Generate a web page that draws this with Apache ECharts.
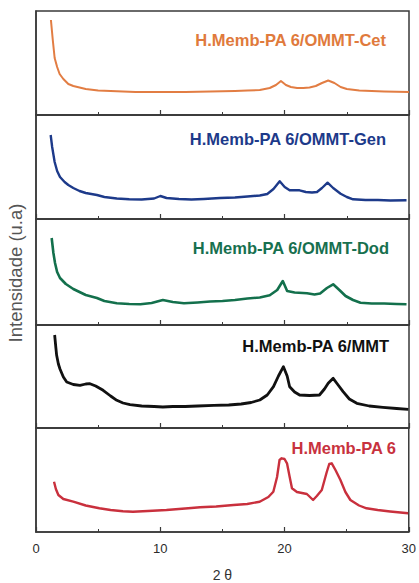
<!DOCTYPE html>
<html>
<head>
<meta charset="utf-8">
<script src="https://cdn.jsdelivr.net/npm/echarts@6/dist/echarts.min.js"></script>
<style>
  html, body { margin: 0; padding: 0; background: #fff; }
  #chart { width: 419px; height: 583px; }
</style>
</head>
<body>
<div id="chart"></div>
<script>
// XRD patterns, 2θ (degrees) vs relative intensity (a.u.), one panel per sample
const sampleNames = [
  'H.Memb-PA 6/OMMT-Cet',
  'H.Memb-PA 6/OMMT-Gen',
  'H.Memb-PA 6/OMMT-Dod',
  'H.Memb-PA 6/MMT',
  'H.Memb-PA 6'
];
const sampleColors = ['#e27d43', '#1d3a8a', '#13704c', '#111111', '#c9303d'];
const labelColors  = ['#e07a3c', '#1d3a8a', '#17704f', '#111111', '#c8323e'];

const xTicks = [0, 10, 20, 30];

const patternCet = [
  [1.2, 95], [1.35, 75], [1.5, 57], [1.7, 48], [1.9, 41], [2.2, 36], [2.6, 31],
  [3.0, 29], [4.0, 26], [5.0, 24.5], [6.0, 24], [7.0, 23.5], [8.0, 23], [10.0, 23],
  [12.0, 23], [14.0, 23.5], [16.0, 24], [17.0, 24.5], [18.0, 25], [18.8, 27],
  [19.3, 30], [19.7, 34], [20.1, 30], [20.5, 28], [21.0, 27], [21.5, 27],
  [22.0, 27.5], [22.5, 29], [23.0, 32], [23.5, 34.5], [24.0, 32], [24.5, 28],
  [25.0, 26], [26.0, 24.5], [27.0, 24], [28.0, 23.5], [30.0, 23]
];

const patternGen = [
  [1.18, 84], [1.3, 72], [1.5, 57], [1.7, 48], [1.93, 42], [2.3, 37], [2.6, 34],
  [3.0, 31], [3.5, 28], [4.0, 26], [4.9, 24], [5.5, 22], [6.5, 20.5], [7.5, 19.7],
  [8.5, 19.5], [9.5, 20.5], [10.0, 23], [10.5, 21], [11.5, 20], [12.5, 19.5],
  [13.5, 20], [14.8, 21], [16.0, 21.5], [17.0, 22.5], [18.0, 23.5], [18.6, 25],
  [19.1, 30], [19.6, 37.7], [20.0, 32], [20.4, 28.7], [21.2, 28.7], [21.7, 27],
  [22.2, 26.5], [22.6, 27], [23.0, 31], [23.45, 36.3], [23.9, 31], [24.5, 25.3],
  [25.0, 22], [25.5, 19.7], [26.5, 19], [27.5, 19], [28.5, 18.5], [29.8, 18.7]
];

const patternDod = [
  [1.26, 87], [1.4, 72], [1.53, 62], [1.7, 53], [1.93, 47], [2.4, 41], [3.0, 36],
  [3.5, 33], [4.0, 30], [4.9, 27], [5.5, 24], [6.5, 21.7], [7.5, 21], [8.4, 20.7],
  [9.3, 22], [10.2, 25], [11.0, 23], [11.9, 21.7], [13.0, 22.5], [14.0, 23.5],
  [15.0, 24], [16.0, 25], [17.0, 26.5], [18.0, 27.5], [18.8, 29.7], [19.4, 35],
  [19.85, 44], [20.2, 34], [20.8, 32.5], [21.8, 31.7], [22.4, 30.5], [22.85, 31.5],
  [23.4, 37], [23.9, 40.7], [24.4, 35], [24.9, 29], [25.5, 25], [26.1, 22.3],
  [27.0, 21.5], [28.0, 21.5], [29.0, 21], [29.8, 20.7]
];

const patternMmt = [
  [1.5, 93], [1.6, 80], [1.66, 72.7], [1.8, 64], [1.93, 59], [2.2, 51], [2.47, 46],
  [3.0, 43.5], [3.54, 42.7], [4.0, 44], [4.34, 44.3], [4.8, 42], [5.4, 37.7],
  [6.0, 32], [6.5, 27.7], [7.0, 25], [7.56, 23.3], [8.5, 22], [9.5, 21.5],
  [10.2, 21], [11.0, 21.5], [12.0, 21.5], [13.0, 22], [14.3, 22.7], [15.5, 23],
  [16.5, 24], [17.3, 25.5], [18.0, 28], [18.6, 33], [19.1, 41.3], [19.5, 52],
  [19.9, 61.3], [20.2, 52], [20.4, 41.3], [20.8, 36], [21.2, 33], [22.0, 32.5],
  [22.8, 33], [23.2, 39], [23.5, 44.7], [23.9, 49.7], [24.3, 43], [24.7, 36.3],
  [25.2, 29], [25.8, 24.7], [26.8, 22], [27.9, 20.7], [29.0, 19.5], [29.95, 18.7]
];

const patternPa6 = [
  [1.45, 50.3], [1.6, 43], [1.8, 37], [2.2, 33], [3.0, 30.3], [4.0, 26.5],
  [5.1, 23.7], [6.0, 22], [7.0, 20.8], [7.8, 20.3], [9.0, 21], [10.5, 22],
  [11.5, 23], [12.5, 24], [13.2, 24.7], [14.5, 25.5], [15.9, 27], [17.0, 28],
  [18.0, 30.3], [18.7, 35], [19.1, 40.3], [19.4, 55], [19.6, 72], [19.77, 73.7],
  [20.0, 73], [20.2, 68.7], [20.4, 56], [20.6, 43.7], [21.0, 40], [21.8, 38],
  [22.3, 32], [22.6, 36], [23.0, 42], [23.4, 60], [23.6, 68], [23.8, 68.7],
  [24.1, 62], [24.5, 52], [24.9, 40], [25.3, 32], [26.0, 26.5], [26.6, 23.7],
  [27.5, 22], [28.5, 20.5], [29.95, 18.7]
];

const patterns = [patternCet, patternGen, patternDod, patternMmt, patternPa6];

// panel frames (pixel rows) stacked top to bottom
const panelTops = [11, 115, 219, 325, 428];
const panelHeights = [104, 104, 106, 103, 104];
const labelRight = [386, 386, 389, 389, 396];
const lineWidths = [2, 2.4, 2.6, 2.8, 2.4];

const chart = echarts.init(document.getElementById('chart'), null, { renderer: 'svg' });

const grids = [], xAxes = [], yAxes = [], series = [], graphics = [];
const frameColor = '#3a3a3a';

patterns.forEach((data, i) => {
  const last = i === patterns.length - 1;
  grids.push({
    left: 36, right: 10, top: panelTops[i], height: panelHeights[i],
    show: true, borderColor: frameColor, borderWidth: 1.5, backgroundColor: 'transparent'
  });
  xAxes.push({
    gridIndex: i, type: 'value', min: 0, max: 30, interval: 10,
    axisLine: { show: true, lineStyle: { color: frameColor, width: 1.5 } },
    axisTick: { show: true, inside: true, length: 5, lineStyle: { color: frameColor, width: 1.2 } },
    minorTick: { show: true, splitNumber: 2, length: 3, lineStyle: { color: frameColor, width: 1 } },
    splitLine: { show: false },
    axisLabel: {
      show: last, color: '#2b2b2b', fontSize: 13, margin: 10,
      fontFamily: 'Liberation Sans, Arial, sans-serif',
      formatter: v => xTicks.includes(v) ? String(v) : ''
    },
    name: last ? '2 θ' : '', nameLocation: 'middle', nameGap: 36,
    nameTextStyle: { color: '#333', fontSize: 14, fontFamily: 'Liberation Sans, Arial, sans-serif' }
  });
  yAxes.push({
    gridIndex: i, type: 'value', min: 0, max: panelHeights[i],
    axisLine: { show: true, lineStyle: { color: frameColor, width: 1.5 } },
    axisTick: { show: false }, axisLabel: { show: false }, splitLine: { show: false }
  });
  series.push({
    type: 'line', xAxisIndex: i, yAxisIndex: i, data: data,
    showSymbol: false, smooth: false, animation: false,
    lineStyle: { color: sampleColors[i], width: lineWidths[i], join: 'round' }
  });
});

// sample labels placed inside each panel through the panel's own scales
const labelHeights = [75, 80, 77, 82, 84];
const chartOption = {
  backgroundColor: '#fff',
  animation: false,
  grid: grids, xAxis: xAxes, yAxis: yAxes, series: series
};
chart.setOption(chartOption);

sampleNames.forEach((name, i) => {
  const p = chart.convertToPixel({ gridIndex: i }, [0, labelHeights[i]]);
  graphics.push({
    type: 'text', x: labelRight[i], y: p[1],
    style: {
      text: name, fill: labelColors[i], align: 'right', verticalAlign: 'middle',
      font: 'bold 16.5px "Liberation Sans", Arial, sans-serif'
    }
  });
});
graphics.push({
  type: 'text', x: 15, y: 273, rotation: Math.PI / 2,
  style: {
    text: 'Intensidade (u.a)', fill: '#555', align: 'center', verticalAlign: 'middle',
    font: '18.5px "Liberation Sans", Arial, sans-serif'
  }
});
chart.setOption({ graphic: graphics });
</script>
</body>
</html>
